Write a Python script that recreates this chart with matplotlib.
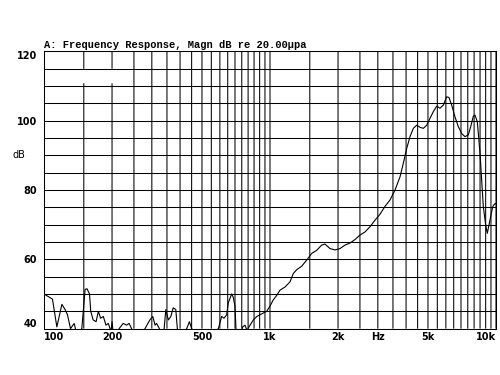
import matplotlib
matplotlib.use('Agg')
import matplotlib.pyplot as plt
import numpy as np

# DATOS
# ---------------------------
frecuencias = [100, 106, 109, 114, 120, 124, 127, 131, 136, 140,
               147, 152, 155, 159, 161, 165, 170, 174, 178, 183, 188, 192.5, 196, 197.5, 200, 203,
               210, 215, 224, 232, 238, 244,
               260, 280, 294, 303, 310, 315, 324,
               332, 340, 346, 355, 364, 373, 383, 389,
               400, 428, 440, 450,
               500, 591, 611, 626, 643, 654, 677, 688, 700, 707,
               730, 757, 775, 791, 816, 844, 874, 903, 934, 967, 1000,
               1034, 1071, 1107, 1165, 1226, 1268, 1313, 1381, 1454, 1530, 1609, 1693, 1751,
               1843, 1939, 2040, 2147, 2259, 2377, 2501, 2633, 2770, 2915, 3067, 3228, 3396,
               3574, 3761, 3889, 4026, 4164, 4306, 4458, 4610, 4768, 4936, 5105, 5279, 5465,
               5652, 5846, 6052, 6194, 6368, 6585, 6811, 7050, 7291, 7541, 7730, 7937, 8075,
               8267, 8497, 8645, 8787, 9003, 9152, 9408, 9670, 9899, 10000]
nivel_db = [50, 49, 48.5, 40.5, 47, 45.5, 44, 40, 41.5, 38,
            40, 51.3, 51.5, 50, 45, 42.5, 42, 45, 43, 43.5, 41, 41.5, 40, 38.5, 42, 38,
            37, 40, 41.5, 41, 41.5, 40,
            37, 40, 42.5, 43.5, 41, 41.5, 40,
            37, 40, 45.5, 42.5, 43.5, 46, 45.5, 40,
            37, 40, 42, 40,
            36, 40, 43.5, 43, 44, 47.5, 50, 49, 46.5, 40,
            37, 40.5, 41, 39.5, 41, 42.5, 43.5, 44, 44.5, 45, 46.5,
            48.3, 49.6, 51.1, 52, 53.5, 55.9, 57, 58, 59.8, 61.7, 62.6, 64.1, 64.4,
            63.1, 62.7, 63.1, 64.1, 64.7, 65.7, 67, 67.9, 69.4, 71.3, 73, 75.3, 77.1,
            80, 83.8, 87.7, 92, 95.4, 97.8, 98.7, 98.1, 97.8, 98.7, 100.7, 102.6, 104.2,
            103.6, 104.5, 106.9, 106.7, 104.5, 101.1, 98.3, 96.3, 95.4, 95.9, 98.3, 101.3, 101.6,
            99.7, 90.6, 82.9, 75.2, 69.9, 67.5, 71.3, 75.2, 76.1, 76]

x_ticks = [100, 200, 500, 1000, 2000, 3000, 5000, 10000]
x_labels = ['100', '200', '500', '1k', '2k', 'Hz', '5k', '10k']
y_ticks = [40, 60, 80, 100, 120]
titulo = 'A: Frequency Response, Magn dB re 20.00\u00b5pa'

fig = plt.figure(figsize=(5, 3.75), dpi=100)
ax = fig.add_axes([0.088, 0.1237, 0.904, 0.7392])
ax.set_xscale('log')
ax.set_xlim(100, 10000)
ax.set_ylim(40, 120)

# rejilla: cada 50 Hz hasta 1k, cada 500 Hz hasta 10k, cada 5 dB
verticales = list(np.arange(100, 1000, 50)) + list(np.arange(1000, 10001, 500))
for f in verticales:
    if f in (150, 200):
        ax.vlines(f, 40, 110.8, color='black', lw=0.75, snap=False, zorder=1)
        ax.vlines(f, 115, 120, color='black', lw=0.75, snap=False, zorder=1)
    else:
        ax.vlines(f, 40, 120, color='black', lw=0.75, snap=False, zorder=1)
ax.hlines(np.arange(40, 121, 5), 100, 10000, color='black', lw=0.75, zorder=1)

ax.plot(frecuencias, nivel_db, color='black', lw=0.8, zorder=3)

ax.minorticks_off()
ax.set_xticks(x_ticks)
ax.set_xticklabels(x_labels, fontsize=7, fontweight='bold')
ax.set_yticks(y_ticks)
ax.set_yticklabels([str(v) for v in y_ticks], fontsize=7, fontweight='bold')
ax.tick_params(length=0)
ax.tick_params(axis='x', pad=2.5)
ax.tick_params(axis='y', pad=5)
xl = ax.get_xticklabels()
xl[0].set_ha('left')
xl[-1].set_ha('right')
yl = ax.get_yticklabels()
yl[0].set_va('bottom')
yl[-1].set_va('top')

for s in ax.spines.values():
    s.set_color('black')
    s.set_linewidth(0.75)

fig.text(19 / 500, 1 - 155 / 375, 'dB', ha='center', va='center', fontsize=7)
fig.text(44 / 500, 1 - 48 / 375, titulo, ha='left', va='baseline',
         family='Liberation Mono', fontweight='bold', fontsize=7.5)

fig.savefig('out.png', dpi=100, facecolor='white')
